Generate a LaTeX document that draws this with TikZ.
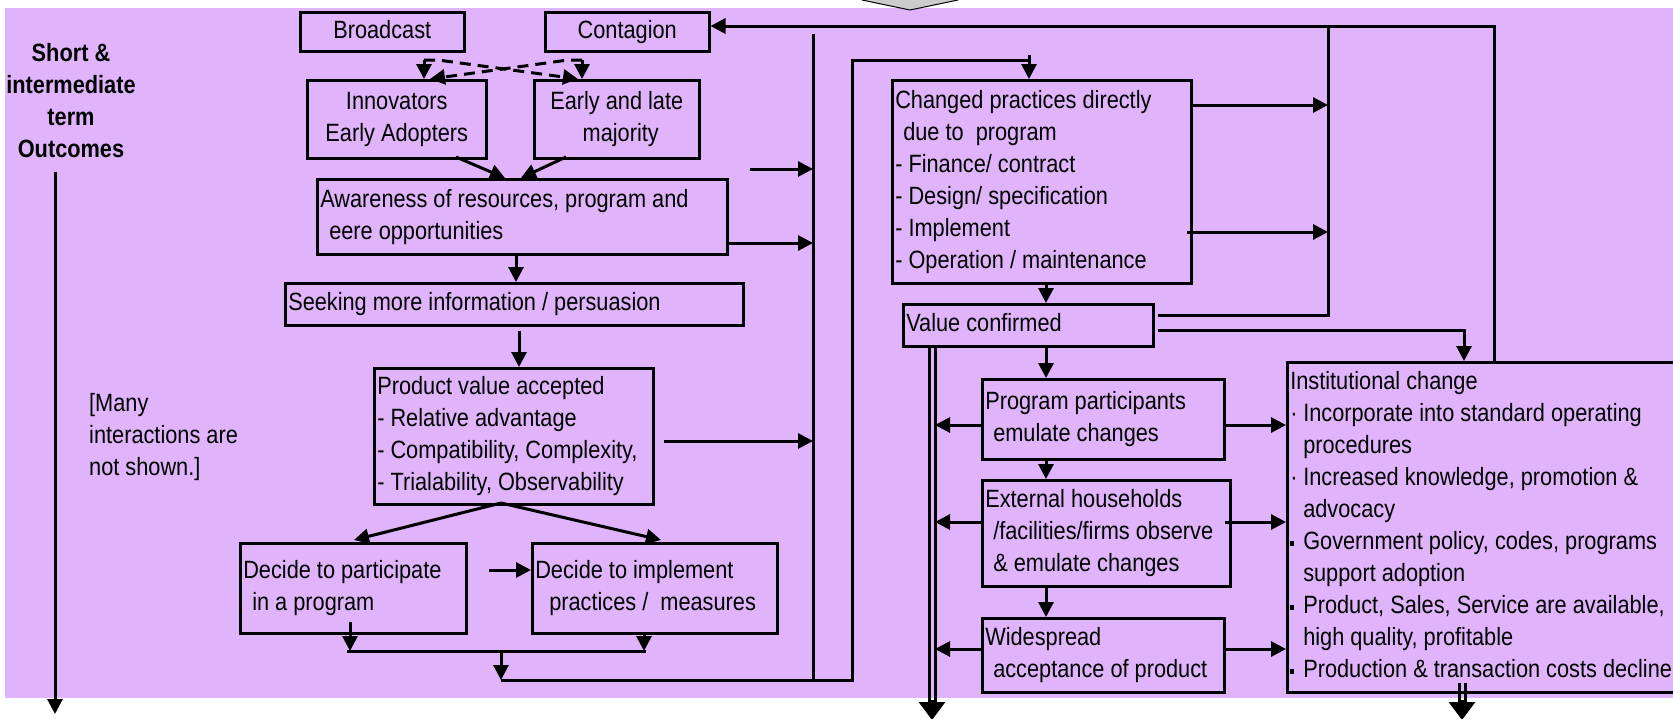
\documentclass[tikz,border=0pt]{standalone}
\usepackage{fontspec}
\setmainfont{Liberation Sans}[FakeStretch=0.87]
\usetikzlibrary{arrows.meta}
\definecolor{lav}{RGB}{224,180,250}
\definecolor{chev}{RGB}{204,204,204}

% box with top-left corner (#2,#3), bottom-right corner (#4,#5), column alignment #6
\newcommand{\flowbox}[7]{%
  \node[box, minimum width={#4-#2}, minimum height={#5-#3}] (#1) at (#2,#3)
    {\makebox[\dimexpr #4pt-#2pt-6pt\relax][#6]{\begin{tabular}{@{}#6@{}}#7\end{tabular}}};}
\newcommand{\dotb}{\makebox[13pt][l]{\textperiodcentered}}
\newcommand{\sqb}{\makebox[13pt][l]{\raisebox{3.5pt}{\rule{4pt}{5pt}}}}
\newcommand{\cont}{\hspace*{13pt}}

\begin{document}
\begin{tikzpicture}[x=1pt,y=-1pt,
  txt/.style={font=\fontsize{25}{32}\selectfont, inner sep=0pt},
  box/.style={draw, line width=2.5pt, anchor=north west, inner xsep=3pt, inner ysep=0pt,
              font=\fontsize{25}{32}\selectfont},
  ln/.style={line width=3pt},
  arr/.style={line width=3pt, -{Triangle[length=15pt,width=15pt]}},
  darr/.style={arr, dash pattern=on 11pt off 7pt},
  bigarr/.style={line width=3pt, -{Triangle[length=18pt,width=26pt]}}]

\useasboundingbox (0,0) rectangle (1673,718);
\fill[lav] (5,8) rectangle (1673,698);

% tip of the incoming block arrow at the top
\fill[chev] (862,0) -- (910,10) -- (958,0) -- cycle;
\draw[line width=1pt] (862,0) -- (910,10) -- (958,0);

% ---------- boxes ----------
\flowbox{bc}{299}{11}{463}{50}{c}{Broadcast}
\flowbox{ct}{544}{11}{708}{50}{c}{Contagion}
\flowbox{inn}{306}{79}{485}{157}{c}{Innovators\\Early Adopters}
\flowbox{maj}{533}{79}{698}{157}{c}{Early and late\\\hspace*{8pt}majority}
\flowbox{aw}{316}{178}{726}{253}{l}{Awareness of resources, program and\\\hspace*{9pt}eere opportunities}
\flowbox{sk}{284}{282}{742}{324}{l}{Seeking more information / persuasion}
\flowbox{pv}{373}{367}{652}{503}{l}{Product value accepted\\- Relative advantage\\- Compatibility, Complexity,\\- Trialability, Observability}
\flowbox{dp}{239}{542}{465}{632}{l}{Decide to participate\\\hspace*{9pt}in a program}
\flowbox{di}{531}{542}{776}{632}{l}{Decide to implement\\\hspace*{14pt}practices /\ \ measures}
\flowbox{cp}{891}{79}{1190}{282}{l}{Changed practices directly\\\hspace*{8pt}due to\ \ program\\- Finance/ contract\\- Design/ specification\\- Implement\\- Operation / maintenance}
\flowbox{vc}{902}{303}{1152}{345}{l}{Value confirmed}
\flowbox{pp}{981}{378}{1223}{458}{l}{Program participants\\\hspace*{8pt}emulate changes}
\flowbox{eh}{981}{479}{1229}{585}{l}{External households\\\hspace*{8pt}/facilities/firms observe\\\hspace*{8pt}\& emulate changes}
\flowbox{ws}{981}{617}{1223}{691}{l}{Widespread\\\hspace*{8pt}acceptance of product}
\flowbox{ic}{1286}{361}{1676}{691}{l}{Institutional change\\
  \dotb Incorporate into standard operating\\\cont procedures\\
  \dotb Increased knowledge, promotion \&\\\cont advocacy\\
  \sqb Government policy, codes, programs\\\cont support adoption\\
  \sqb Product, Sales, Service are available,\\\cont high quality, profitable\\
  \sqb Production \& transaction costs decline}

% ---------- side labels ----------
\node[txt, align=center, font=\fontsize{25}{32}\selectfont\bfseries] (lbl) at (71,101)
  {Short \&\\intermediate\\term\\Outcomes};
\node[txt, align=left, anchor=west] (note) at (89,437) {[Many\\interactions are\\not shown.]};
\coordinate (la1) at (55,172);
\coordinate (la2) at (55,714);
\draw[arr] (la1) -- (la2);

% ---------- diffusion channels ----------
\coordinate (b0) at (424,60);
\coordinate (c0) at (582,60);
\coordinate (dB) at (578,79);
\coordinate (dC) at (430,79);
\draw[arr] (b0) -- (b0 |- inn.north);
\draw[arr] (c0) -- (c0 |- maj.north);
\draw[darr] (b0) -- ++(14,0) -- (dB);
\draw[darr] (c0) -- ++(-14,0) -- (dC);

\coordinate (i1) at (456,157);
\coordinate (i2) at (505,178);
\coordinate (m1) at (566,157);
\coordinate (m2) at (521,178);
\draw[arr] (i1) -- (i2);
\draw[arr] (m1) -- (m2);

\coordinate (x516) at (516,0);
\draw[arr] (aw.south -| x516) -- (sk.north -| x516);
\coordinate (s1) at (519,331);
\draw[arr] (s1) -- (s1 |- pv.north);

\coordinate (apex) at (501,503);
\coordinate (t1) at (354,540);
\coordinate (t2) at (661,540);
\draw[arr] (apex) -- (t1);
\draw[arr] (apex) -- (t2);

\coordinate (h1) at (489,570);
\draw[arr] (h1) -- (h1 -| di.west);

\coordinate (d1) at (350,622);
\coordinate (d1b) at (350,651);
\coordinate (x644) at (644,0);
\coordinate (d2b) at (644,651);
\draw[arr] (d1) -- (d1b);
\draw[arr] (di.south -| x644) -- (d2b);
\coordinate (jl) at (347,651);
\coordinate (jr) at (646,651);
\draw[ln] (jl) -- (jr);
\coordinate (jm) at (501,651);
\coordinate (bl) at (501,680);
\draw[arr] (jm) -- (bl);

% collector line
\coordinate (bv1) at (813,34);
\coordinate (bv2) at (813,680);
\draw[ln] (bv1) -- (bv2);
\coordinate (a1) at (750,169);
\coordinate (a2) at (726,243);
\coordinate (a3) at (664,441);
\draw[arr] (a1) -- (a1 -| bv1);
\draw[arr] (a2) -- (a2 -| bv1);
\draw[arr] (a3) -- (a3 -| bv1);

\coordinate (br) at (852,680);
\coordinate (brt) at (852,60);
\coordinate (cpIn) at (1029,60);
\draw[ln] (bl) -- (br) -- (brt) -- (cpIn);
\coordinate (cpTop) at (1029,55);
\draw[arr] (cpTop) -- (cpTop |- cp.north);

% ---------- outcomes chain ----------
\coordinate (xc) at (1046,0);
\draw[arr] (cp.south -| xc) -- (vc.north -| xc);
\draw[arr] (vc.south -| xc) -- (pp.north -| xc);
\draw[arr] (pp.south -| xc) -- (eh.north -| xc);
\draw[arr] (eh.south -| xc) -- (ws.north -| xc);

% feedback to the top
\coordinate (tR) at (1494,26);
\coordinate (tC) at (1328,26);
\draw[arr] (ic.north -| tR) -- (tR) -- (tR -| ct.east);
\coordinate (vcA) at (1158,315);
\draw[ln] (vcA) -| (tC);
\coordinate (cpA) at (1190,105);
\coordinate (cpB) at (1187,232);
\draw[arr] (cpA) -- (cpA -| tC);
\draw[arr] (cpB) -- (cpB -| tC);
\coordinate (vcB) at (1158,330);
\coordinate (icIn) at (1464,361);
\draw[arr] (vcB) -| (icIn);

% double line out of "Value confirmed"
\coordinate (dvL) at (929,0);
\coordinate (dvR) at (935,0);
\coordinate (dvLb) at (929,706);
\coordinate (dvRb) at (935,706);
\draw[ln] (vc.south -| dvL) -- (dvLb);
\draw[ln] (vc.south -| dvR) -- (dvRb);
\coordinate (dvTop) at (932,700);
\coordinate (dvTip) at (932,720);
\draw[bigarr] (dvTop) -- (dvTip);

\coordinate (ppL) at (981,425);
\coordinate (ehL) at (981,522);
\coordinate (wsL) at (981,649);
\draw[arr] (ppL) -- (ppL -| dvR);
\draw[arr] (ehL) -- (ehL -| dvR);
\draw[arr] (wsL) -- (wsL -| dvR);

\coordinate (ppR) at (1223,425);
\coordinate (ehR) at (1225,522);
\coordinate (wsR) at (1223,649);
\draw[arr] (ppR) -- (ppR -| ic.west);
\draw[arr] (ehR) -- (ehR -| ic.west);
\draw[arr] (wsR) -- (wsR -| ic.west);

% double line out of "Institutional change"
\coordinate (icL) at (1459,683);
\coordinate (icR) at (1465,683);
\coordinate (icLb) at (1459,706);
\coordinate (icRb) at (1465,706);
\draw[ln] (icL) -- (icLb);
\draw[ln] (icR) -- (icRb);
\coordinate (icTop) at (1462,700);
\coordinate (icTip) at (1462,720);
\draw[bigarr] (icTop) -- (icTip);
\end{tikzpicture}
\end{document}
